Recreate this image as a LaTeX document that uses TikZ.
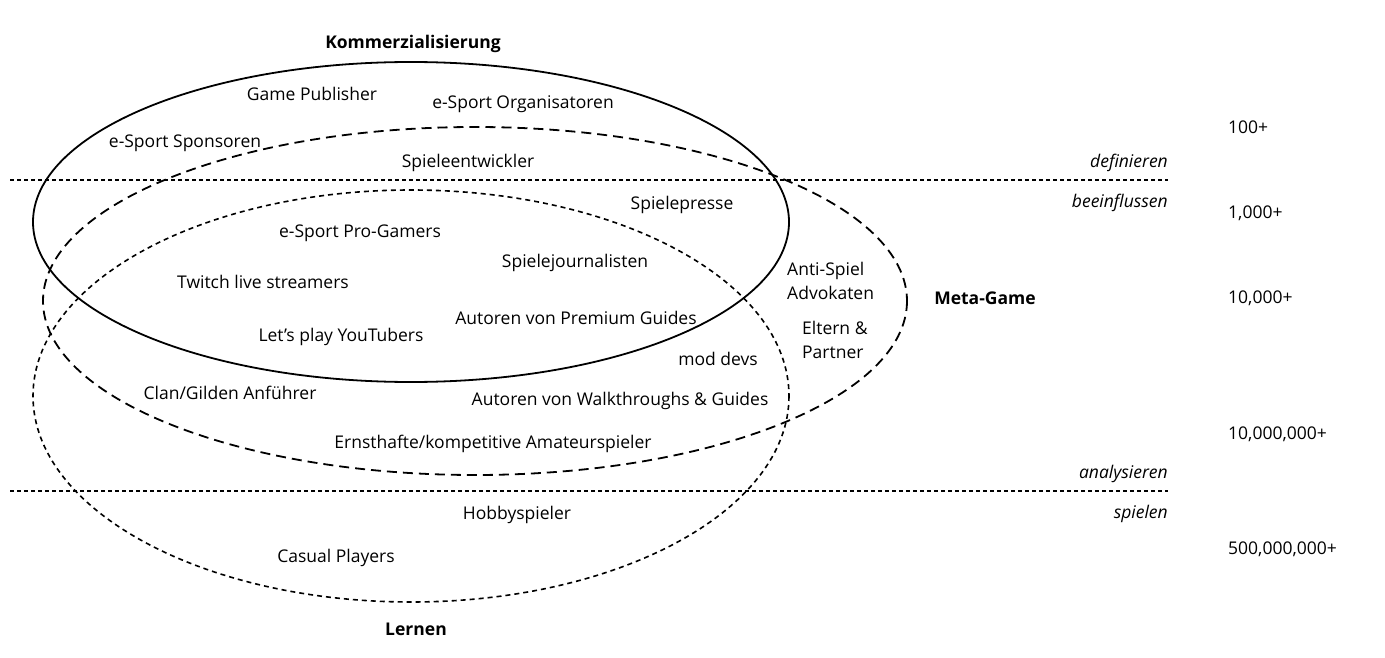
\documentclass[tikz,border=0pt]{standalone}
\usepackage{fontspec}
\setmainfont{Open Sans}
\begin{document}
\begin{tikzpicture}[x=1pt,y=-1pt,
  lbl/.style={font=\fontsize{17.5}{21}\selectfont, inner sep=0pt, yshift=-2pt},
  ttl/.style={font=\fontsize{17.5}{21}\selectfont\bfseries, inner sep=0pt, yshift=-1pt},
  lvl/.style={font=\fontsize{17.5}{21}\selectfont\itshape, inner sep=0pt, anchor=east, yshift=-2pt},
  num/.style={font=\fontsize{17.5}{21}\selectfont, inner sep=0pt, anchor=west, yshift=-1pt},
  blk/.style={font=\fontsize{17.5}{24}\selectfont, inner sep=0pt, anchor=north west, align=left},
  solidell/.style={line width=1.8pt},
  dashell/.style={line width=1.8pt, dash pattern=on 10pt off 6pt},
  dotell/.style={line width=1.6pt, dash pattern=on 5pt off 4pt},
  sep/.style={line width=1.1pt, dash pattern=on 4pt off 3pt}]
\useasboundingbox (0,0) rectangle (1385,658);
% ellipses
\draw[solidell] (411,222) ellipse [x radius=378, y radius=160];
\draw[dashell] (475,301) ellipse [x radius=432, y radius=174];
\draw[dotell] (411,396) ellipse [x radius=378, y radius=206];
% separator lines
\coordinate (s1a) at (10,180); \coordinate (s1b) at (1168,180);
\coordinate (s2a) at (10,491); \coordinate (s2b) at (1168,491);
\draw[sep] (s1a) -- (s1b);
\draw[sep] (s2a) -- (s2b);
% titles
\node[ttl] (kom) at (413,43) {Kommerzialisierung};
\node[ttl] (meta) at (985,297) {Meta-Game};
\node[ttl] (lern) at (416,628) {Lernen};
% labels
\node[lbl] (gp) at (312,92) {Game Publisher};
\node[lbl] (eso) at (523,102) {e-Sport Organisatoren};
\node[lbl] (ess) at (185,141) {e-Sport Sponsoren};
\node[lbl] (se) at (468,161) {Spieleentwickler};
\node[lbl] (sp) at (682,203) {Spielepresse};
\node[lbl] (epg) at (360,231) {e-Sport Pro-Gamers};
\node[lbl] (sj) at (575,261) {Spielejournalisten};
\node[lbl] (tls) at (263,280) {Twitch live streamers};
\node[blk] (asa) at (787,262) {Anti-Spiel\\Advokaten};
\node[lbl] (apg) at (576,316) {Autoren von Premium Guides};
\node[blk] (ep) at (802,321) {Eltern \&\\Partner};
\node[lbl] (lpy) at (341,335) {Let’s play YouTubers};
\node[lbl] (md) at (718,357) {mod devs};
\node[lbl] (cga) at (230,391) {Clan/Gilden Anführer};
\node[lbl] (awg) at (620,399) {Autoren von Walkthroughs \& Guides};
\node[lbl] (eka) at (493,442) {Ernsthafte/kompetitive Amateurspieler};
\node[lbl] (hs) at (517,513) {Hobbyspieler};
\node[lbl] (cp) at (336,556) {Casual Players};
% levels
\node[lvl] (def) at (1168,161) {definieren};
\node[lvl] (bee) at (1168,201) {beeinflussen};
\node[lvl] (ana) at (1168,472) {analysieren};
\node[lvl] (spi) at (1168,512) {spielen};
% numbers
\node[num] (n1) at (1228,126) {100+};
\node[num] (n2) at (1228,212) {1,000+};
\node[num] (n3) at (1228,297) {10,000+};
\node[num] (n4) at (1228,433) {10,000,000+};
\node[num] (n5) at (1228,548) {500,000,000+};
\end{tikzpicture}
\end{document}
